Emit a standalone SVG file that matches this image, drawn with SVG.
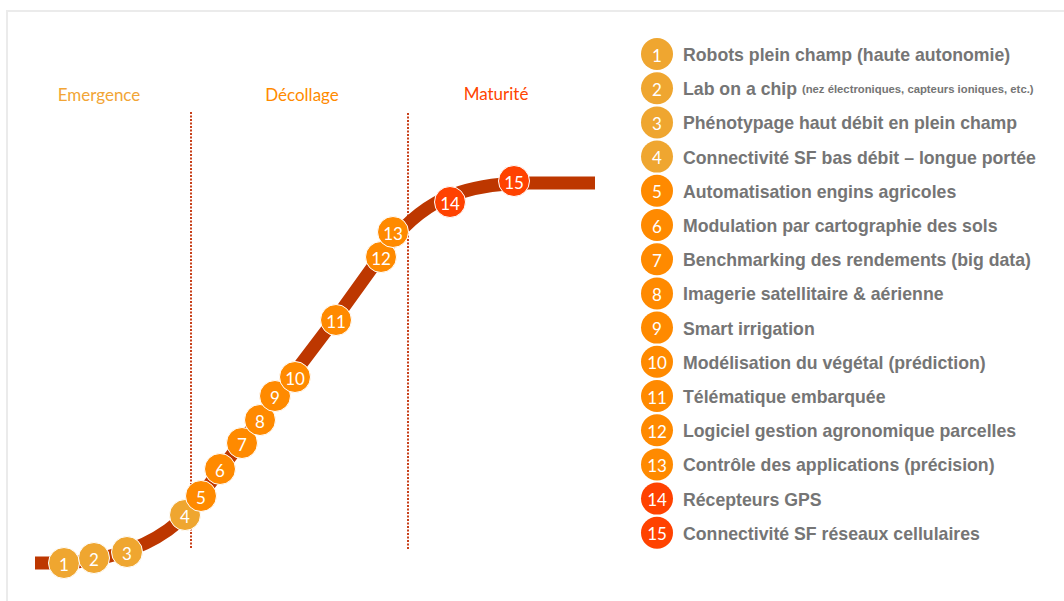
<svg xmlns="http://www.w3.org/2000/svg" width="1064" height="601" viewBox="0 0 1064 601">
<style>
.phase{font-family:Lato,"Open Sans",sans-serif;font-size:17px;text-anchor:middle}
.num{font-family:Lato,"Open Sans",sans-serif;font-size:17px;fill:#fff;text-anchor:middle;dominant-baseline:central}
.lbl{font-family:"Liberation Sans",Arial,sans-serif;font-size:17.7px;font-weight:bold;fill:#757575;dominant-baseline:central}
.small{font-size:11.3px}
.c1{fill:#EFA630}
.c2{fill:#FF8A00}
.c3{fill:#FF4200}
.dot{stroke:#C8401A;stroke-width:2;stroke-dasharray:2 1.5;fill:none}
#curve circle{stroke:#fff;stroke-width:1}
</style>
<rect x="7" y="11" width="1070" height="600" fill="#fff" stroke="#EBEBEB" stroke-width="2"/>
<text class="phase" x="99" y="101" fill="#F2A535">Emergence</text>
<text class="phase" x="302" y="101" fill="#FF8A00">Décollage</text>
<text class="phase" x="496" y="100" fill="#FF4500">Maturité</text>
<g id="connectors">
<line class="dot" x1="191" y1="112" x2="191" y2="549"/>
<line class="dot" x1="408" y1="113" x2="408" y2="550"/>
<path d="M35,563 L62,563 C100,562 140,550 168,530 C185,518 195,505 205,490 L295,372 L336,318 L382,254 C400,228 420,210 445,198 C470,187 500,183 530,183 L595,183" fill="none" stroke="#BD3700" stroke-width="13"/>
</g>
<g id="curve">
<g id="n1"><circle class="c1" cx="64" cy="563" r="15.5"/><text class="num" x="64" y="564">1</text></g>
<g id="n2"><circle class="c1" cx="94" cy="558" r="15.5"/><text class="num" x="94" y="559">2</text></g>
<g id="n3"><circle class="c1" cx="127" cy="552" r="15.5"/><text class="num" x="127" y="553">3</text></g>
<g id="n4"><circle class="c1" cx="185" cy="515" r="15.5"/><text class="num" x="185" y="516">4</text></g>
<g id="n5"><circle class="c2" cx="201" cy="496" r="15.5"/><text class="num" x="201" y="497">5</text></g>
<g id="n6"><circle class="c2" cx="220" cy="469" r="15.5"/><text class="num" x="220" y="470">6</text></g>
<g id="n7"><circle class="c2" cx="242" cy="443" r="15.5"/><text class="num" x="242" y="444">7</text></g>
<g id="n8"><circle class="c2" cx="260" cy="420" r="15.5"/><text class="num" x="260" y="421">8</text></g>
<g id="n9"><circle class="c2" cx="275" cy="396" r="15.5"/><text class="num" x="275" y="397">9</text></g>
<g id="n10"><circle class="c2" cx="295" cy="377" r="15.5"/><text class="num" x="295" y="378">10</text></g>
<g id="n11"><circle class="c2" cx="336" cy="320" r="15.5"/><text class="num" x="336" y="321">11</text></g>
<g id="n12"><circle class="c2" cx="381" cy="257" r="15.5"/><text class="num" x="381" y="258">12</text></g>
<g id="n13"><circle class="c2" cx="393" cy="232" r="15.5"/><text class="num" x="393" y="233">13</text></g>
<g id="n14"><circle class="c3" cx="450" cy="202" r="15.5"/><text class="num" x="450" y="203">14</text></g>
<g id="n15"><circle class="c3" cx="514" cy="181" r="15.5"/><text class="num" x="514" y="182">15</text></g>
</g>
<g id="legend">
<g id="l1"><circle class="c1" cx="657" cy="54" r="16"/><text class="num" x="657" y="55">1</text><text class="lbl" x="683" y="55">Robots plein champ (haute autonomie)</text></g>
<g id="l2"><circle class="c1" cx="657" cy="88.2" r="16"/><text class="num" x="657" y="89.2">2</text><text class="lbl" x="683" y="89.2">Lab on a chip <tspan class="small">(nez électroniques, capteurs ioniques, etc.)</tspan></text></g>
<g id="l3"><circle class="c1" cx="657" cy="122.4" r="16"/><text class="num" x="657" y="123.4">3</text><text class="lbl" x="683" y="123.4">Phénotypage haut débit en plein champ</text></g>
<g id="l4"><circle class="c1" cx="657" cy="156.6" r="16"/><text class="num" x="657" y="157.6">4</text><text class="lbl" x="683" y="157.6">Connectivité SF bas débit – longue portée</text></g>
<g id="l5"><circle class="c2" cx="657" cy="190.8" r="16"/><text class="num" x="657" y="191.8">5</text><text class="lbl" x="683" y="191.8">Automatisation engins agricoles</text></g>
<g id="l6"><circle class="c2" cx="657" cy="225" r="16"/><text class="num" x="657" y="226">6</text><text class="lbl" x="683" y="226">Modulation par cartographie des sols</text></g>
<g id="l7"><circle class="c2" cx="657" cy="259.2" r="16"/><text class="num" x="657" y="260.2">7</text><text class="lbl" x="683" y="260.2">Benchmarking des rendements (big data)</text></g>
<g id="l8"><circle class="c2" cx="657" cy="293.4" r="16"/><text class="num" x="657" y="294.4">8</text><text class="lbl" x="683" y="294.4">Imagerie satellitaire &amp; aérienne</text></g>
<g id="l9"><circle class="c2" cx="657" cy="327.6" r="16"/><text class="num" x="657" y="328.6">9</text><text class="lbl" x="683" y="328.6">Smart irrigation</text></g>
<g id="l10"><circle class="c2" cx="657" cy="361.8" r="16"/><text class="num" x="657" y="362.8">10</text><text class="lbl" x="683" y="362.8">Modélisation du végétal (prédiction)</text></g>
<g id="l11"><circle class="c2" cx="657" cy="396" r="16"/><text class="num" x="657" y="397">11</text><text class="lbl" x="683" y="397">Télématique embarquée</text></g>
<g id="l12"><circle class="c2" cx="657" cy="430.2" r="16"/><text class="num" x="657" y="431.2">12</text><text class="lbl" x="683" y="431.2">Logiciel gestion agronomique parcelles</text></g>
<g id="l13"><circle class="c2" cx="657" cy="464.4" r="16"/><text class="num" x="657" y="465.4">13</text><text class="lbl" x="683" y="465.4">Contrôle des applications (précision)</text></g>
<g id="l14"><circle class="c3" cx="657" cy="498.6" r="16"/><text class="num" x="657" y="499.6">14</text><text class="lbl" x="683" y="499.6">Récepteurs GPS</text></g>
<g id="l15"><circle class="c3" cx="657" cy="532.8" r="16"/><text class="num" x="657" y="533.8">15</text><text class="lbl" x="683" y="533.8">Connectivité SF réseaux cellulaires</text></g>
</g>
</svg>
